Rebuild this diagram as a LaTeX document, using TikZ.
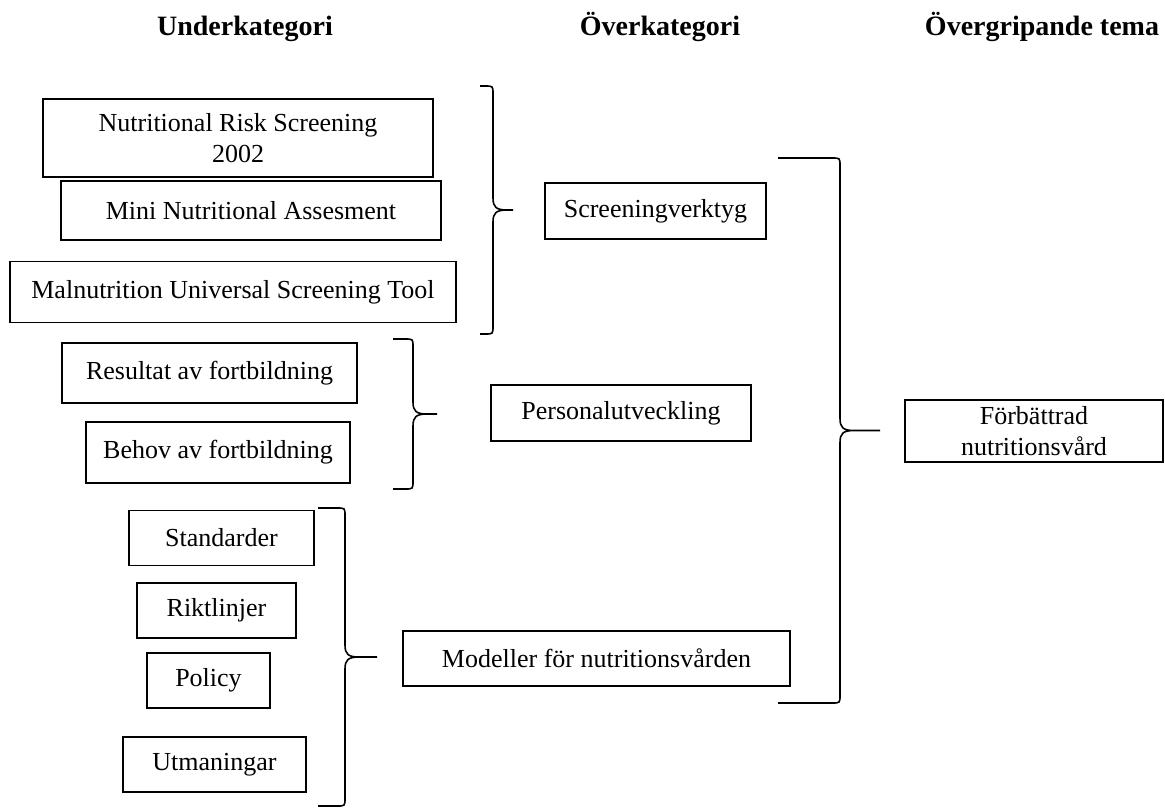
\documentclass[tikz,border=0pt]{standalone}
\usepackage{fontspec}
\setmainfont{Liberation Serif}
\begin{document}
\begin{tikzpicture}[x = 0.5pt, y = -0.5pt,
	box/.style = {draw, line width = 0.7pt, inner sep = 2pt, align = center, font = \fontsize{13}{15.5}\selectfont},
	head/.style = {anchor = base, font = \fontsize{14}{16}\selectfont\bfseries},
	brace/.style = {line width = 0.8pt}]
	\useasboundingbox (0, 0) rectangle (1165, 809);
	%Headings
	\node[head] (hunder) at (245, 35) {Underkategori};
	\node[head] (hover) at (660, 35) {Överkategori};
	\node[head] (htema) at (1042, 35) {Övergripande tema};
	%Underkategorier
		%screening
		\node[box, minimum width = 195pt, minimum height = 39pt] (nrs) at (238, 138) {Nutritional Risk Screening\\2002};
		\node[box, minimum width = 190pt, minimum height = 29.5pt] (mna) at (251, 210.5) {Mini Nutritional Assesment};
		\node[box, minimum width = 223pt, minimum height = 30.5pt] (must) at (233, 292) {Malnutrition Universal Screening Tool};
		%fortbildning
		\node[box, minimum width = 147.5pt, minimum height = 30pt] (resultat) at (209.5, 373) {Resultat av fortbildning};
		\node[box, minimum width = 132pt, minimum height = 30.5pt] (behov) at (218, 452.5) {Behov av fortbildning};
		%modeller
		\node[box, minimum width = 92.5pt, minimum height = 27.5pt] (standarder) at (221.5, 538) {Standarder};
		\node[box, minimum width = 79.5pt, minimum height = 27.5pt] (riktlinjer) at (216.5, 610.5) {Riktlinjer};
		\node[box, minimum width = 61.5pt, minimum height = 27.5pt] (policy) at (208.5, 680.5) {Policy};
		\node[box, minimum width = 91.5pt, minimum height = 27.5pt] (utmaningar) at (214.5, 764.5) {Utmaningar};
	%Overkategorier
	\node[box, minimum width = 110.5pt, minimum height = 28pt] (screening) at (655.5, 211) {Screeningverktyg};
	\node[box, minimum width = 130pt, minimum height = 28pt] (personal) at (621, 413) {Personalutveckling};
	\node[box, minimum width = 193.5pt, minimum height = 27.5pt] (modeller) at (596.5, 658.5) {Modeller för nutritionsvården};
	%Tema
	\node[box, minimum width = 129pt, minimum height = 31pt] (tema) at (1034, 431) {Förbättrad\\nutritionsvård};
	%Braces
	\foreach \xa/\xv/\xt/\ya/\ym/\yb in {480/493/513/86/210/334, 393/413/437/339/414/489, 318/345/377/508/657/806, 778/840/880/158/430.5/703}
		\draw[brace] (\xa, \ya) -- (\xv - 8, \ya) .. controls (\xv, \ya) .. (\xv, \ya + 8)
			-- (\xv, \ym - 12) .. controls (\xv, \ym - 3) and (\xv + 3, \ym) .. (\xv + 14, \ym) -- (\xt, \ym)
			(\xv + 14, \ym) .. controls (\xv + 3, \ym) and (\xv, \ym + 3) .. (\xv, \ym + 12)
			-- (\xv, \yb - 8) .. controls (\xv, \yb) .. (\xv - 8, \yb) -- (\xa, \yb);
\end{tikzpicture}
\end{document}
